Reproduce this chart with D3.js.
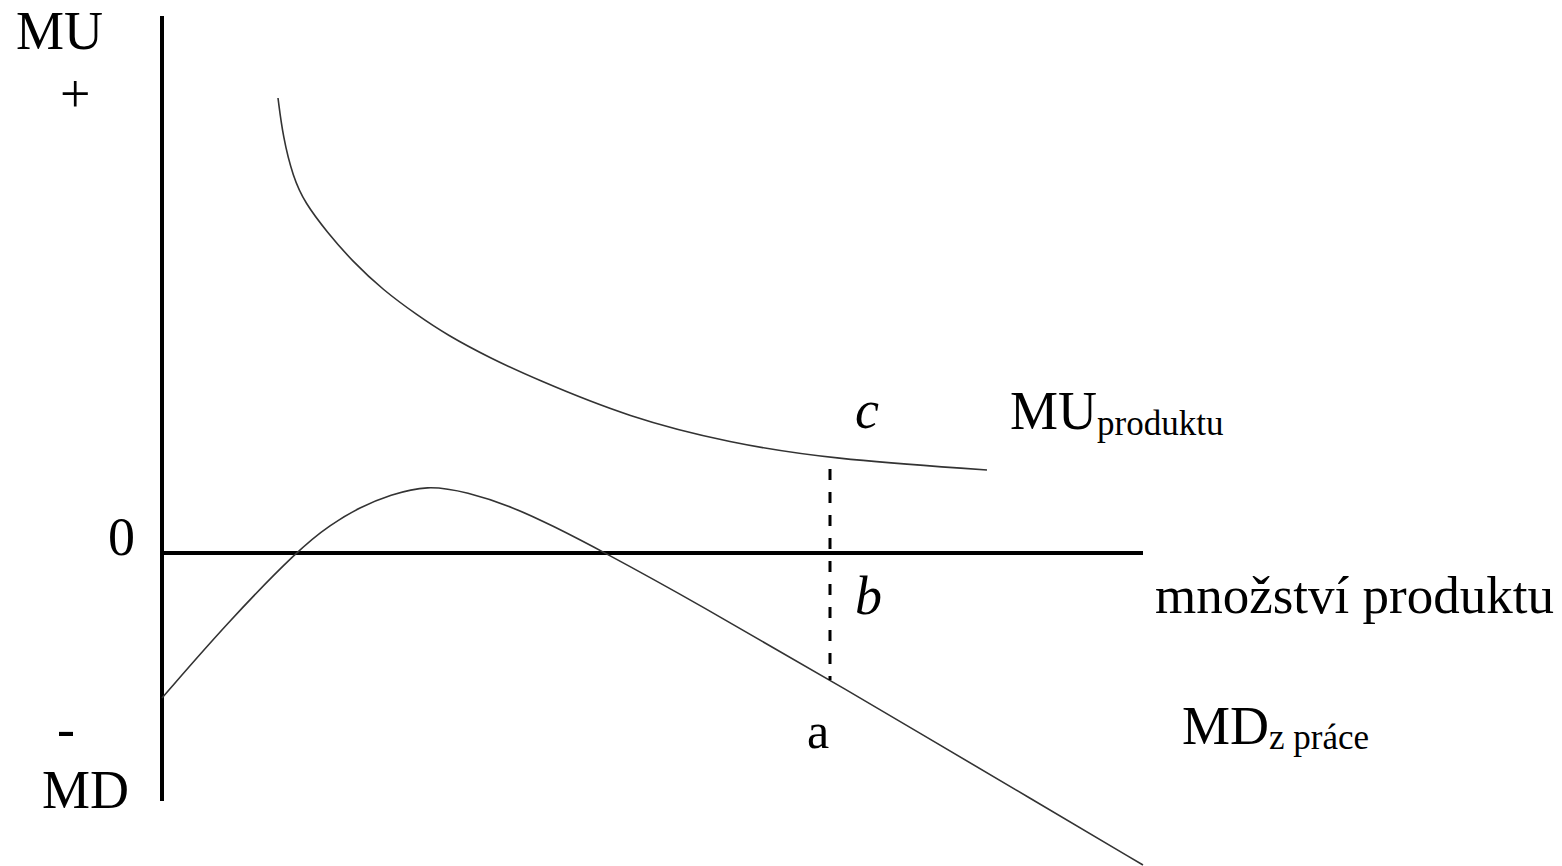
<!DOCTYPE html>
<html>
<head>
<meta charset="utf-8">
<script src="https://cdn.jsdelivr.net/npm/d3@7"></script>
<style>
  body { margin: 0; background: #fff; }
  text { font-family: "Liberation Serif", "Times New Roman", serif; fill: #000; }
</style>
</head>
<body>
<div id="chart"></div>
<script>
var width = 1562,
    height = 866

// marginal utility of the product (upper curve)
var muX = [11.6, 12.1, 13.1, 14.3, 16.5, 19.1, 22.1, 25.5, 28.5, 32.8, 37.1, 46.8, 56.8, 66.8, 82.5]
var muY = [45.5, 41.6, 37.6, 35.0, 32.1, 29.1, 26.3, 23.8, 21.8, 19.5, 17.5, 13.5, 11.0, 9.4, 8.3]

// marginal disutility of work (lower curve)
var mdX = [0, 6.5, 13.8, 16.8, 19.8, 22.8, 26.5, 30.5, 35.1, 39.1, 43.8, 53.8, 66.8, 88.8, 98.1]
var mdY = [-14.5, -7.0, 0.5, 2.8, 4.6, 5.8, 6.8, 6.1, 4.6, 2.7, 0.3, -5.2, -12.7, -25.7, -31.2]

// quantity where the dashed line is drawn (points c, b, a)
var markX = 66.8
var markTop = 8.4
var markBottom = -12.7

var xMax = 98.1,
    yTop = 53.7,
    yBottom = -24.8

var x = d3.scaleLinear().domain([0, 98.1]).range([162, 1143])
var y = d3.scaleLinear().domain([-32, 54]).range([873, 13])

var svg = d3.select('#chart').append('svg')
    .attr('width', width)
    .attr('height', height)

// axes
svg.append('line')
    .attr('x1', x(0)).attr('x2', x(0))
    .attr('y1', y(yTop)).attr('y2', y(yBottom))
    .attr('stroke', '#000')
    .attr('stroke-width', 4)

svg.append('line')
    .attr('x1', x(0)).attr('x2', x(xMax))
    .attr('y1', y(0)).attr('y2', y(0))
    .attr('stroke', '#000')
    .attr('stroke-width', 4)

var line = d3.line()
    .x(function(d) { return x(d[0]) })
    .y(function(d) { return y(d[1]) })
    .curve(d3.curveBasis)

svg.append('path')
    .datum(d3.zip(muX, muY))
    .attr('d', line)
    .attr('fill', 'none')
    .attr('stroke', '#333')
    .attr('stroke-width', 1.6)

svg.append('path')
    .datum(d3.zip(mdX, mdY))
    .attr('d', line)
    .attr('fill', 'none')
    .attr('stroke', '#333')
    .attr('stroke-width', 1.6)

// dashed guide
svg.append('line')
    .attr('x1', x(markX)).attr('x2', x(markX))
    .attr('y1', y(markTop)).attr('y2', y(markBottom))
    .attr('stroke', '#000')
    .attr('stroke-width', 3)
    .attr('stroke-dasharray', '11,12')

// labels
function label(txt, px, py, size, italic) {
    return svg.append('text')
        .attr('x', px)
        .attr('y', py)
        .attr('font-size', size)
        .attr('font-style', italic ? 'italic' : 'normal')
        .text(txt)
}

label('MU', 16, 49, 54)
label('+', 60, 112, 54)
label('0', 108, 555, 54)
label('-', 57, 747, 54)
label('MD', 42, 808, 54)

label('c', x(markX) + 25, 428, 54, true)
label('b', x(markX) + 25, 614, 54, true)
label('a', x(markX) - 23, 748, 50)

var mu = label('MU', 1010, 429, 54)
mu.append('tspan').attr('font-size', 35).attr('dy', 6).text('produktu')

label('množství produktu', 1155, 613, 53)

var md = label('MD', 1182, 744, 54)
md.append('tspan').attr('font-size', 35).attr('dy', 5).text('z práce')
</script>
</body>
</html>
